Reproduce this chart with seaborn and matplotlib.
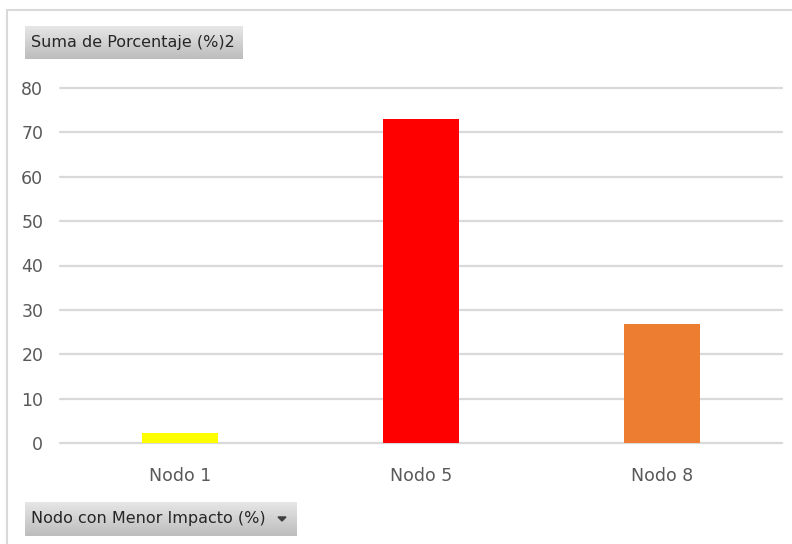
import numpy as np
import pandas as pd
import matplotlib
matplotlib.use("Agg")
import matplotlib.pyplot as plt
from matplotlib.patches import Rectangle, Polygon
import seaborn as sns

nodos = ["Nodo 1", "Nodo 5", "Nodo 8"]
porcentaje = [2.3, 73.0, 26.8]
colores = ["#FFFF00", "#FF0000", "#ED7D31"]
yticks = [0, 10, 20, 30, 40, 50, 60, 70, 80]

df = pd.DataFrame({"nodo": nodos, "valor": porcentaje})

sns.set_theme(style="white")
plt.rcParams["font.family"] = ["DejaVu Sans"]

W, H = 792, 544
fig = plt.figure(figsize=(W / 100, H / 100), dpi=100)
ax = fig.add_axes([60 / W, 1 - 443 / H, 722 / W, 355 / H])

sns.barplot(data=df, x="nodo", y="valor", hue="nodo", palette=colores,
            width=0.316, legend=False, saturation=1, linewidth=0, ax=ax)

ax.set_ylim(0, 80)
ax.set_xlim(-0.5, 2.5)
ax.set_yticks(yticks)
ax.yaxis.grid(True, color="#D9D9D9", linewidth=1.6)
for gl in ax.get_ygridlines():
    gl.set_clip_on(False)
ax.set_axisbelow(True)
for s in ax.spines.values():
    s.set_visible(False)
ax.set_xlabel("")
ax.set_ylabel("")
ax.tick_params(axis="both", length=0, labelsize=12.5, colors="#595959")
ax.tick_params(axis="y", pad=12)
ax.tick_params(axis="x", pad=17)

# marco exterior
fig.patches.append(Rectangle((7 / W, -0.01), 1, 1 - 10 / H + 0.01,
                             transform=fig.transFigure, fill=False,
                             edgecolor="#D9D9D9", linewidth=1.5))

grad = np.linspace(0.90, 0.74, 50).reshape(-1, 1)


def boton(x0, y0, w, h, texto, flecha=False):
    bax = fig.add_axes([x0 / W, 1 - (y0 + h) / H, w / W, h / H])
    bax.imshow(grad, cmap="gray", vmin=0, vmax=1, aspect="auto",
               extent=[0, 1, 0, 1])
    bax.set_axis_off()
    bax.text(6 / w, 0.5, texto, fontsize=11.5, color="#262626",
             va="center", ha="left", transform=bax.transAxes)
    if flecha:
        cx = 1 - 15 / w
        bax.add_patch(Polygon([[cx - 4 / w, 0.56], [cx + 4 / w, 0.56],
                               [cx, 0.44]], closed=True,
                              color="#404040", transform=bax.transAxes))


boton(25, 26, 217, 33, "Suma de Porcentaje (%)2")
boton(25, 502, 272, 34, "Nodo con Menor Impacto (%)", flecha=True)

fig.savefig("out.png", dpi=100)
